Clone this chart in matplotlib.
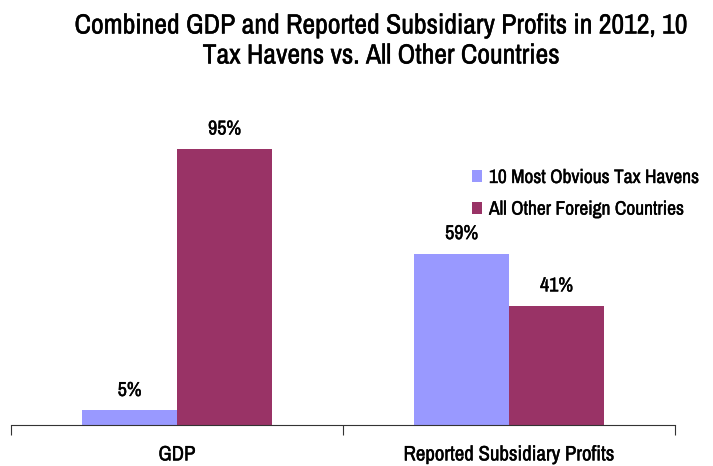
import matplotlib
matplotlib.use("Agg")
import matplotlib.pyplot as plt
import matplotlib.patheffects as pe
import numpy as np

categories = ["GDP", "Reported Subsidiary Profits"]
series_names = ["10 Most Obvious Tax Havens", "All Other Foreign Countries"]
havens = [5, 59]
others = [95, 41]

plt.rcParams['font.family'] = ["Archivo Narrow", "Liberation Sans", "DejaVu Sans"]
thick = [pe.withStroke(linewidth=0.3, foreground="black")]

fig = plt.figure(figsize=(7.13, 4.66), dpi=100)
ax = fig.add_axes([11/713, 41/466, (675-11)/713, (425-134.5)/466])

x = np.arange(len(categories))
w = 0.286
c1, c2 = "#9999FF", "#993366"
b1 = ax.bar(x - w/2, havens, w, color=c1, label=series_names[0])
b2 = ax.bar(x + w/2, others, w, color=c2, label=series_names[1])

for bars, vals in ((b1, havens), (b2, others)):
    for r, v in zip(bars, vals):
        ax.annotate(f"{v}%", (r.get_x() + r.get_width()/2, v), xytext=(0, 20),
                    textcoords="offset pixels", ha="center", va="center",
                    fontsize=14.5, annotation_clip=False, path_effects=thick)

ax.set_xlim(-0.5, 1.5)
ax.set_ylim(0, 100)
for s in ("top", "right", "left"):
    ax.spines[s].set_visible(False)
ax.spines["bottom"].set_color("#333333")
ax.set_yticks([])
ax.set_xticks([-0.5, 0.5, 1.5])
ax.set_xticklabels([])
ax.tick_params(axis="x", length=7, direction="out", color="#333333")
for xi, c in zip(x, categories):
    ax.text(xi, -0.103, c, transform=ax.get_xaxis_transform(), ha="center", va="center",
            fontsize=15, path_effects=thick)

leg = ax.legend(loc="upper left", bbox_to_anchor=(443/664, 0.945), frameon=False,
                handlelength=0.55, handleheight=0.55, handletextpad=0.35,
                labelspacing=0.65, prop={"size": 14})
for t in leg.get_texts():
    t.set_path_effects(thick)

fig.text(381/713, 1 - 41/466, "Combined GDP and Reported Subsidiary Profits in 2012, 10\nTax Havens vs. All Other Countries",
         ha="center", va="center", fontsize=20, linespacing=1.25, path_effects=thick)

fig.savefig("out.png", dpi=100)
